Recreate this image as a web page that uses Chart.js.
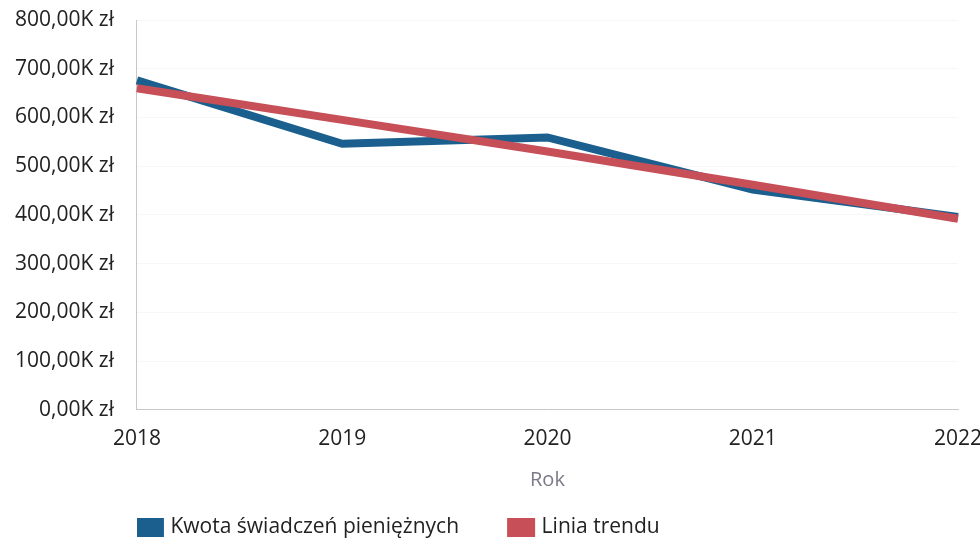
<!DOCTYPE html>
<html>
<head>
<meta charset="utf-8">
<script src="https://cdn.jsdelivr.net/npm/chart.js@4/dist/chart.umd.min.js"></script>
<style>
  html, body { margin: 0; padding: 0; background: #fff; }
  #wrap { width: 980px; height: 542px; }
</style>
</head>
<body>
<div id="wrap"><canvas id="chart"></canvas></div>
<script>
// ─── Data ─────────────────────────────────────────────────────────────────────
const years   = ["2018", "2019", "2020", "2021", "2022"];
const amounts = [676000, 546000, 559000, 452000, 396000];   // Kwota świadczeń pieniężnych
const trend   = [660000, 595000, 530000, 462000, 392000];   // Linia trendu
const yTicks  = [0, 100000, 200000, 300000, 400000, 500000, 600000, 700000, 800000];

const fmt = v => (v / 1000).toFixed(2).replace(".", ",") + "K zł";
const GAP = "\u00a0".repeat(9);   // wide gap between the two legend items

// ─── Chart ────────────────────────────────────────────────────────────────────
new Chart(document.getElementById("chart"), {
  type: "line",
  data: {
    labels: years,
    datasets: [
      {
        label: "Kwota świadczeń pieniężnych" + GAP,
        data: amounts,
        borderColor: "#1b5f8e",
        backgroundColor: "#1b5f8e",
        borderWidth: 8,
        pointRadius: 0,
        tension: 0,
        order: 2
      },
      {
        label: "Linia trendu",
        data: trend,
        borderColor: "#c64f58",
        backgroundColor: "#c64f58",
        borderWidth: 8,
        pointRadius: 0,
        tension: 0,
        order: 1      // trend drawn on top
      }
    ]
  },
  options: {
    responsive: true,
    maintainAspectRatio: false,
    animation: false,
    layout: { padding: { left: -8, right: 0, top: 0, bottom: -6 } },
    scales: {
      x: {
        offset: false,
        afterFit: axis => { axis.paddingLeft = 0; axis.paddingRight = 22; },
        grid: { display: false, drawTicks: false },
        border: { color: "#c8c8c8", width: 1 },
        ticks: { color: "#222", font: { family: "Open Sans", size: 21 }, padding: 17, maxRotation: 0 },
        title: { display: true, text: "Rok", color: "#7a7a88", font: { family: "Open Sans", size: 20 }, padding: { top: -1, bottom: 22 } }
      },
      y: {
        min: 0,
        max: 800000,
        afterBuildTicks: axis => { axis.ticks = yTicks.map(v => ({ value: v })); },
        // tick padding would otherwise be added above the top label too
        afterFit: axis => { axis.paddingTop = 20; axis.paddingBottom = 0; },
        grid: { color: "#f7f7f7", drawTicks: false },
        border: { color: "#c8c8c8", width: 1 },
        ticks: { color: "#222", font: { family: "Open Sans", size: 21 }, padding: 23, callback: v => fmt(v) }
      }
    },
    plugins: {
      legend: {
        position: "bottom",
        align: "start",
        fullSize: false,
        labels: {
          color: "#222",
          font: { family: "Open Sans", size: 21 },
          boxWidth: 20,
          boxHeight: 11,
          padding: 3,
          sort: (a, b) => a.datasetIndex - b.datasetIndex
        }
      },
      tooltip: { enabled: false }
    }
  }
});
</script>
</body>
</html>
